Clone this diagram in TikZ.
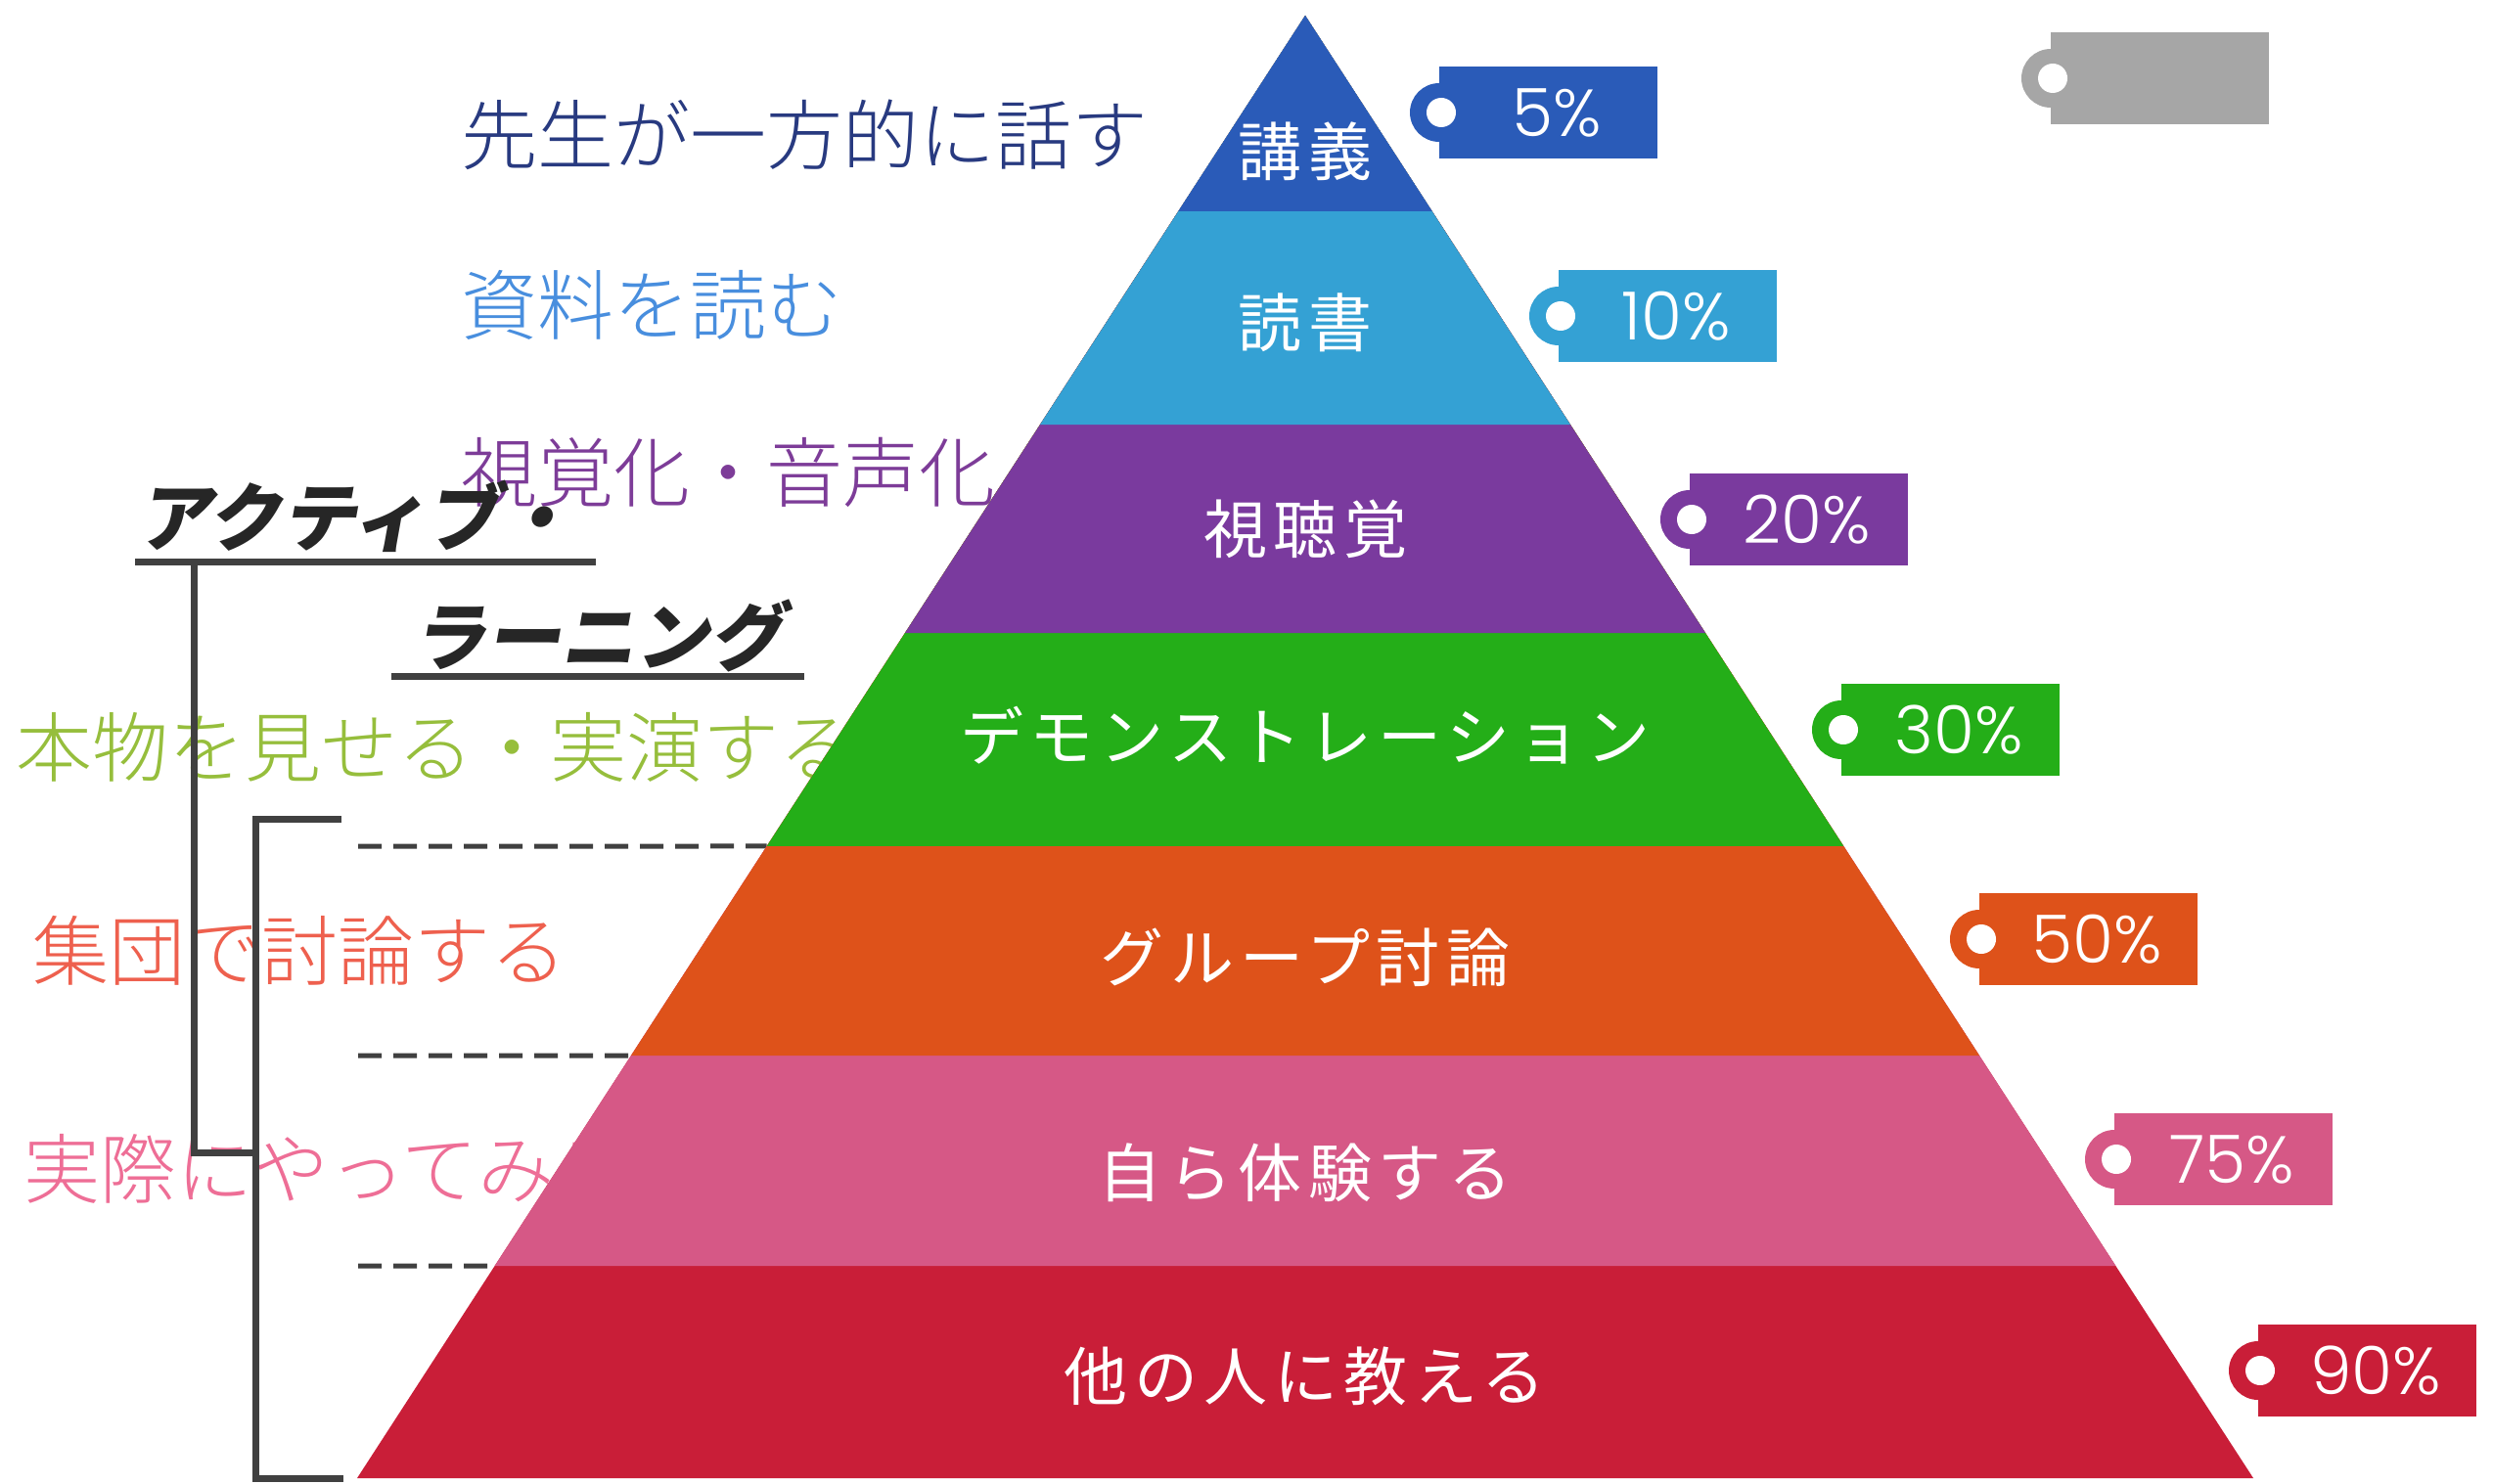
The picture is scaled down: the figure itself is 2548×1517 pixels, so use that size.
\documentclass[tikz,border=0pt]{standalone}
\usepackage{fontspec}
\usetikzlibrary{calc}
\newfontfamily\jp[UprightFont={* Light}]{Noto Sans CJK JP}
\newfontfamily\jpsl[FakeSlant=0.18,BoldFont={* Black}]{Noto Sans CJK JP}
\newfontfamily\jplab[LetterSpace=10]{Noto Sans CJK JP}
\newfontfamily\pct[UprightFont={* Light}]{Poppins}
\definecolor{c1}{RGB}{42,91,184}
\definecolor{c2}{RGB}{52,161,212}
\definecolor{c3}{RGB}{122,58,158}
\definecolor{c4}{RGB}{36,174,24}
\definecolor{c5}{RGB}{222,82,26}
\definecolor{c6}{RGB}{214,88,134}
\definecolor{c7}{RGB}{201,30,56}
\definecolor{tgray}{RGB}{166,166,166}
\definecolor{tnavy}{RGB}{40,58,128}
\definecolor{tblue}{RGB}{72,142,222}
\definecolor{tpurple}{RGB}{125,60,152}
\definecolor{tgreen}{RGB}{150,190,60}
\definecolor{tred}{RGB}{238,96,78}
\definecolor{tpink}{RGB}{238,110,150}
\definecolor{lgray}{RGB}{64,64,64}
\newcommand\pricetag[5]{%
  \fill[#4] (#2,#3-47) rectangle ++(223,94);
  \fill[#4] (#2,#3) circle[radius=30];
  \fill[white] (#2+2,#3) circle[radius=15];
  \node[pcttext] (#1) at (#2+120,#3) {#5};
}
\begin{document}
\begin{tikzpicture}[x=1pt,y=-1pt,
  lefttext/.style={anchor=west, inner sep=0, font=\jp\fontsize{78}{80}\selectfont},
  altext/.style={anchor=west, inner sep=0, text=black!85, font=\jpsl\bfseries\fontsize{76}{78}\selectfont},
  laytext/.style={inner sep=0, text=white, font=\jplab\fontsize{65}{67}\selectfont},
  pcttext/.style={inner sep=0, text=white, font=\pct\fontsize{68}{70}\selectfont},
  bracket/.style={draw=lgray, line width=7},
  dashline/.style={draw=lgray, line width=5, dash pattern=on 24 off 12}]
\useasboundingbox (0,0) rectangle (2548,1517);
\fill[white] (0,0) rectangle (2548,1517);

% left labels (behind pyramid)
\node[lefttext, text=tnavy]   (sensei)  at (471,138)  {先生が一方的に話す};
\node[lefttext, text=tblue]   (shiryo)  at (471,312)  {資料を読む};
\node[lefttext, text=tpurple] (shikaku) at (471,483)  {視覚化・音声化};
\node[lefttext, text=tgreen]  (honmono) at (16,764)   {本物を見せる・実演する};
\node[lefttext, text=tred]    (shudan)  at (33,972)   {集団で討論する};
\node[lefttext, text=tpink]   (jissai)  at (24,1195)  {実際にやってみる};

% pyramid geometry
\coordinate (A)  at (1334,16);
\coordinate (BL) at (365,1511);
\coordinate (BR) at (2303,1511);
\foreach \i/\t in {1/0.13378,2/0.27960,3/0.42207,4/0.56789,5/0.71104,6/0.85485,7/1}{
  \coordinate (L\i) at ($(A)!\t!(BL)$);
  \coordinate (R\i) at ($(A)!\t!(BR)$);
}

% dashed guide lines
\coordinate (d4) at (366,865);
\coordinate (d5) at (366,1079);
\coordinate (d6) at (366,1294);
\draw[dashline] (d4) -- (L4);
\draw[dashline] (d5) -- (L5);
\draw[dashline] (d6) -- (L6);

% layers, bottom first
\fill[c7] (A) -- (L7) -- (R7) -- cycle;
\fill[c6] (A) -- (L6) -- (R6) -- cycle;
\fill[c5] (A) -- (L5) -- (R5) -- cycle;
\fill[c4] (A) -- (L4) -- (R4) -- cycle;
\fill[c3] (A) -- (L3) -- (R3) -- cycle;
\fill[c2] (A) -- (L2) -- (R2) -- cycle;
\fill[c1] (A) -- (L1) -- (R1) -- cycle;

\node[laytext] (lay1) at (1334,155)  {講義};
\node[laytext] (lay2) at (1334,330)  {読書};
\node[laytext] (lay3) at (1334,541)  {視聴覚};
\node[laytext] (lay4) at (1334,752)  {デモンストレーション};
\node[laytext] (lay5) at (1334,979)  {グループ討論};
\node[laytext] (lay6) at (1334,1199) {自ら体験する};
\node[laytext] (lay7) at (1334,1407) {他の人に教える};

% tags
\pricetag{p0}{2096}{80}{tgray}{}
\pricetag{p1}{1471}{115}{c1}{5\%}
\pricetag{p2}{1593}{323}{c2}{10\%}
\pricetag{p3}{1727}{531}{c3}{20\%}
\pricetag{p4}{1882}{746}{c4}{30\%}
\pricetag{p5}{2023}{960}{c5}{50\%}
\pricetag{p6}{2161}{1185}{c6}{75\%}
\pricetag{p7}{2308}{1401}{c7}{90\%}

% active learning heading
\node[altext] (active)   at (140,528) {アクティブ・};
\node[altext] (learning) at (421,650) {ラーニング};

% underlines and brackets
\coordinate (u1a) at (138,574);
\coordinate (u1b) at (609,574);
\coordinate (u2a) at (400,691);
\coordinate (u2b) at (822,691);
\coordinate (o1) at (198,574);
\coordinate (o2) at (198,1178);
\coordinate (o3) at (264,1178);
\coordinate (i1) at (349,837);
\coordinate (i2) at (261,837);
\coordinate (i3) at (261,1511);
\coordinate (i4) at (351,1511);
\draw[bracket] (u1a) -- (u1b);
\draw[bracket] (u2a) -- (u2b);
\draw[bracket] (o1) -- (o2) -- (o3);
\draw[bracket] (i1) -- (i2) -- (i3) -- (i4);
\end{tikzpicture}
\end{document}
